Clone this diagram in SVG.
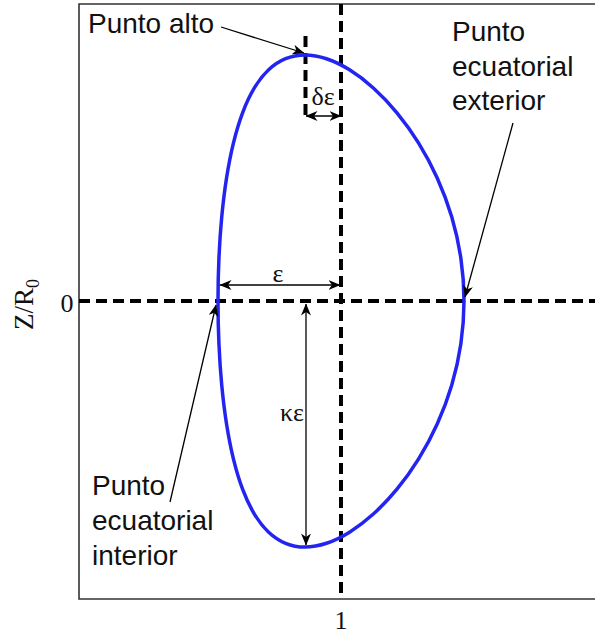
<svg xmlns="http://www.w3.org/2000/svg" width="595" height="634" viewBox="0 0 595 634">
<style>
.lbl{font-family:"Liberation Sans",Arial,sans-serif;font-size:28px;fill:#111}
.math{font-family:"Liberation Serif","Times New Roman",serif;fill:#111}
.dash{stroke:#000;stroke-width:4;stroke-dasharray:11 6;fill:none}
.arr{stroke:#000;stroke-width:1.3;fill:none}
</style>
<defs>
<marker id="ah" viewBox="0 0 12 10" refX="11.5" refY="5" markerWidth="12" markerHeight="10" markerUnits="userSpaceOnUse" orient="auto-start-reverse">
<path d="M0,0 L12,5 L0,10 L3.5,5 Z" fill="#000"/>
</marker>
</defs>
<rect width="595" height="634" fill="#fff"/>
<g id="frame" fill="none" stroke="#333" stroke-width="1.6">
<path d="M595,4 H79 V599 H595"/>
</g>
<g id="axes">
<line class="dash" x1="79" y1="301" x2="595" y2="301"/>
<line class="dash" x1="341" y1="4" x2="341" y2="599"/>
<line class="dash" x1="305.5" y1="36" x2="305.5" y2="117"/>
<text class="math" x="67" y="312" font-size="26" text-anchor="middle">0</text>
<text class="math" x="341" y="629" font-size="26" text-anchor="middle">1</text>
<text class="math" transform="translate(33,330) rotate(-90)" font-size="27">Z/R<tspan dy="6" font-size="18">0</tspan></text>
</g>
<g id="curve">
<path fill="none" stroke="#2424f0" stroke-width="3.5" d="M464,301 C464,286.76 462.92,272.30 460.87,258.28 C458.82,244.26 455.65,230.24 451.71,216.86 C447.77,203.48 442.75,190.33 437.21,178 C431.67,165.67 425.23,153.78 418.49,142.87 C411.75,131.96 404.28,121.70 396.75,112.55 C389.23,103.40 381.21,95.08 373.34,87.96 C365.47,80.84 357.36,74.71 349.55,69.84 C341.74,64.97 333.91,61.21 326.48,58.74 C319.05,56.27 311.78,55 304.96,55 C298.14,55 291.63,56.27 285.58,58.74 C279.53,61.21 273.86,64.97 268.66,69.84 C263.46,74.71 258.70,80.84 254.37,87.96 C250.04,95.08 246.16,103.40 242.68,112.55 C239.20,121.70 236.16,131.96 233.47,142.87 C230.78,153.78 228.50,165.67 226.54,178 C224.59,190.33 223.01,203.48 221.74,216.86 C220.47,230.24 219.55,244.26 218.93,258.28 C218.31,272.30 218,286.76 218,301 C218,315.24 218.31,329.70 218.93,343.72 C219.55,357.74 220.47,371.76 221.74,385.14 C223.01,398.52 224.59,411.67 226.54,424 C228.50,436.33 230.78,448.22 233.47,459.13 C236.16,470.04 239.20,480.30 242.68,489.45 C246.16,498.60 250.04,506.92 254.37,514.04 C258.70,521.16 263.46,527.29 268.66,532.16 C273.86,537.03 279.53,540.79 285.58,543.26 C291.63,545.73 298.14,547 304.96,547 C311.78,547 319.05,545.73 326.48,543.26 C333.91,540.79 341.74,537.03 349.55,532.16 C357.36,527.29 365.47,521.16 373.34,514.04 C381.21,506.92 389.23,498.60 396.75,489.45 C404.28,480.30 411.75,470.04 418.49,459.13 C425.23,448.22 431.67,436.33 437.21,424 C442.75,411.67 447.77,398.52 451.71,385.14 C455.65,371.76 458.82,357.74 460.87,343.72 C462.92,329.70 464,315.24 464,301 Z"/>
</g>
<g id="label-punto-alto">
<text class="lbl" x="88" y="33">Punto alto</text>
</g>
<g id="label-exterior">
<text class="lbl" x="452" y="41">Punto</text>
<text class="lbl" x="452" y="76">ecuatorial</text>
<text class="lbl" x="452" y="110">exterior</text>
</g>
<g id="label-interior">
<text class="lbl" x="92" y="495">Punto</text>
<text class="lbl" x="92" y="530">ecuatorial</text>
<text class="lbl" x="92" y="565">interior</text>
</g>
<g id="dim-labels">
<text class="math" x="278" y="282" font-size="26" text-anchor="middle">ε</text>
<text class="math" x="323" y="105" font-size="26" text-anchor="middle">δε</text>
<text class="math" x="292" y="421" font-size="26" text-anchor="middle">κε</text>
</g>
<g id="connectors">
<line class="arr" x1="221" y1="27" x2="304" y2="53" marker-end="url(#ah)"/>
<line class="arr" x1="513" y1="123" x2="465" y2="297" marker-end="url(#ah)"/>
<line class="arr" x1="170" y1="502" x2="216" y2="305" marker-end="url(#ah)"/>
<line class="arr" x1="220" y1="285" x2="340" y2="285" marker-start="url(#ah)" marker-end="url(#ah)"/>
<line class="arr" x1="306" y1="304" x2="306" y2="545" marker-start="url(#ah)" marker-end="url(#ah)"/>
<line class="arr" x1="306" y1="116" x2="341" y2="116" marker-start="url(#ah)" marker-end="url(#ah)"/>
</g>
</svg>
